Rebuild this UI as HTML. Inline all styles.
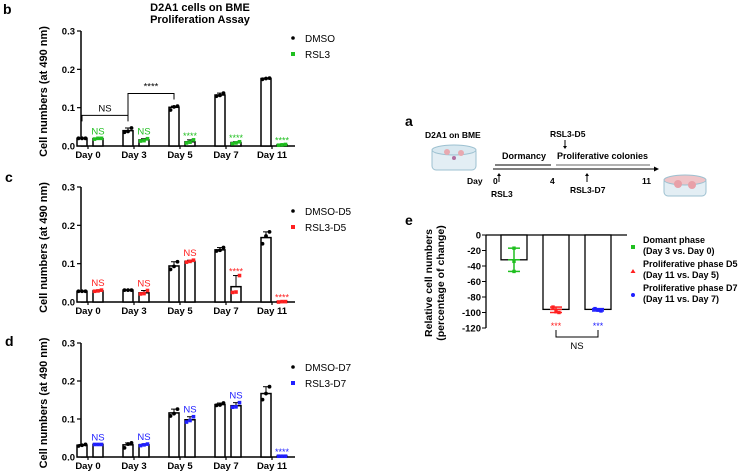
<!DOCTYPE html>
<html><head><meta charset="utf-8"><style>
html,body{margin:0;padding:0;background:#fff;}
svg{display:block;font-family:"Liberation Sans",Arial,sans-serif;}
</style></head><body>
<svg id="fig" width="738" height="474" viewBox="0 0 738 474">
<text x="3" y="14" font-size="14" font-weight="bold">b</text>
<text x="200" y="11" font-size="11" font-weight="bold" text-anchor="middle">D2A1 cells on BME</text>
<text x="200" y="23" font-size="11" font-weight="bold" text-anchor="middle">Proliferation Assay</text>
<text x="5" y="182" font-size="14" font-weight="bold">c</text>
<text x="5" y="346" font-size="14" font-weight="bold">d</text>
<text x="405" y="126" font-size="14" font-weight="bold">a</text>
<text x="405" y="225" font-size="14" font-weight="bold">e</text>

<g id="panelA" font-weight="bold" font-size="8.5">
 <text x="425" y="138">D2A1 on BME</text>
 <g>
  <rect x="432" y="148" width="44" height="22" rx="4" fill="#e3eef4" stroke="#9cc0d0"/>
  <ellipse cx="454" cy="150" rx="22" ry="5" fill="#d8e8f0" stroke="#9cc0d0"/>
  <circle cx="447" cy="152" r="3" fill="#e8a9b0"/><circle cx="461" cy="153" r="3" fill="#e8a9b0"/><circle cx="454" cy="158" r="2" fill="#b06fa0"/>
 </g>
 <g>
  <rect x="664" y="178" width="42" height="18" rx="4" fill="#e3eef4" stroke="#9cc0d0"/>
  <ellipse cx="685" cy="180" rx="21" ry="5" fill="#efc4c8" stroke="#9cc0d0"/>
  <circle cx="678" cy="184" r="4" fill="#e8a0a8"/><circle cx="692" cy="185" r="4" fill="#e8a0a8"/>
 </g>
 <line x1="493" y1="169" x2="654" y2="169" stroke="#000" stroke-width="1"/>
 <polygon points="654,166.5 659,169 654,171.5" fill="#000"/>
 <line x1="495" y1="165" x2="551" y2="165" stroke="#000"/>
 <line x1="556" y1="165" x2="650" y2="165" stroke="#999" stroke-width="1.5"/>
 <text x="502" y="159" font-size="9">Dormancy</text>
 <text x="557" y="159" font-size="9">Proliferative colonies</text>
 <text x="550" y="137">RSL3-D5</text>
 <line x1="565" y1="140" x2="565" y2="148" stroke="#000"/><polygon points="563,146 567,146 565,149" fill="#000"/>
 <text x="467" y="184">Day</text>
 <text x="493" y="184">0</text>
 <line x1="499" y1="174" x2="499" y2="182" stroke="#000"/><polygon points="497,176 501,176 499,173" fill="#000"/>
 <text x="550" y="184">4</text>
 <text x="642" y="184">11</text>
 <line x1="587" y1="174" x2="587" y2="182" stroke="#000"/><polygon points="585,176 589,176 587,173" fill="#000"/>
 <text x="491" y="197">RSL3</text>
 <text x="570" y="193">RSL3-D7</text>
</g>
<g id="charts"></g>
</svg>
<script>
// Panel b
const categories = ["Day 0","Day 3","Day 5","Day 7","Day 11"];
const yTicks = [0.0,0.1,0.2,0.3];
const yTickLabels = ["0.0","0.1","0.2","0.3"];
const bDmso = [0.020,0.040,0.101,0.133,0.176];
const bRsl3 = [0.019,0.016,0.011,0.009,0.003];
const bDmsoPts = [[0.020,0.020,0.020],[0.036,0.038,0.047],[0.094,0.102,0.104],[0.130,0.132,0.138],[0.174,0.176,0.177]];
const bRsl3Pts = [[0.018,0.020,0.020],[0.013,0.014,0.019],[0.008,0.010,0.016],[0.006,0.008,0.011],[0.002,0.003,0.004]];
const bSig = ["NS","NS","****","****","****"];
// Panel c
const cDmso = [0.028,0.031,0.094,0.136,0.168];
const cRsl3 = [0.029,0.024,0.106,0.040,0.001];
const cDmsoPts = [[0.028,0.028,0.028],[0.031,0.031,0.031],[0.085,0.093,0.105],[0.133,0.135,0.142],[0.152,0.172,0.183]];
const cRsl3Pts = [[0.028,0.029,0.031],[0.021,0.022,0.030],[0.104,0.106,0.109],[0.025,0.026,0.069],[0.0,0.001,0.001]];
const cSig = ["NS","NS","NS","****","****"];
// Panel d
const dDmso = [0.031,0.032,0.116,0.138,0.167];
const dRsl3 = [0.033,0.032,0.098,0.135,0.002];
const dDmsoPts = [[0.029,0.031,0.033],[0.024,0.034,0.037],[0.108,0.114,0.126],[0.136,0.137,0.142],[0.151,0.167,0.185]];
const dRsl3Pts = [[0.033,0.033,0.033],[0.030,0.032,0.034],[0.092,0.096,0.106],[0.131,0.132,0.143],[0.002,0.002,0.002]];
const dSig = ["NS","NS","NS","NS","****"];
// Panel e
const eCats = ["Domant phase","Proliferative phase D5","Proliferative phase D7"];
const eMeans = [-32,-96,-96];
const ePts = [[-17,-34,-47],[-93,-99,-100],[-95,-97,-98]];
const eTicks = [0,-20,-40,-60,-80,-100,-120];
const eSig = ["","***","***"];

const NS = "http://www.w3.org/2000/svg";
const root = document.getElementById('charts');
function mk(tag, attrs, parent, text){
  const e = document.createElementNS(NS, tag);
  for (const k in attrs) e.setAttribute(k, attrs[k]);
  if (text !== undefined) e.textContent = text;
  (parent||root).appendChild(e);
  return e;
}

function drawPanel(id, y0, yTop, dm, rs, dmP, rsP, sig, color, legend){
  const g = mk('g', {});
  
  
  const ax = 81, axR = 295;
  const yS = v => y0 - (v/0.3)*(y0-yTop);
  const xG = i => 88 + i*46;
  const yl = mk('line', {x1:ax,y1:yTop,x2:ax,y2:y0,stroke:'#000','stroke-width':1.5}, g);
  
  
  const xl = mk('line', {x1:ax,y1:y0,x2:axR,y2:y0,stroke:'#000','stroke-width':1.5}, g);
  
  
  yTicks.forEach((t,i)=>{
    mk('line',{x1:ax-4,y1:yS(t),x2:ax,y2:yS(t),stroke:'#000','stroke-width':1.2},g);
    const tl = mk('text',{x:ax-6,y:yS(t)+3.5,'font-size':9.5,'font-weight':'bold','text-anchor':'end'},g,yTickLabels[i]);
    
    
  });
  const yt = mk('text',{x:0,y:0,'font-size':11,'font-weight':'bold','text-anchor':'middle',transform:`translate(47,${(y0+yTop)/2+3}) rotate(-90)`},g,'Cell numbers (at 490 nm)');
  
  
  categories.forEach((c,i)=>{
    const gx = xG(i);
    const xt = mk('text',{x:gx,y:y0+12,'font-size':9.5,'font-weight':'bold','text-anchor':'middle'},g,c);
    
    
    mk('line',{x1:gx,y1:y0,x2:gx,y2:y0+3,stroke:'#000','stroke-width':1.2},g);
    [[dm,dmP,gx-6,'#000','dmso'],[rs,rsP,gx+10,color,'treated']].forEach(([vals,pts,cx,col,nm])=>{
      const v = vals[i];
      const b = mk('rect',{x:cx-5,y:yS(v),width:10,height:y0-yS(v),fill:'#fff',stroke:'#000','stroke-width':1.5},g);
      
      
      const p = pts[i];
      const mx = Math.max(...p);
      mk('line',{x1:cx,y1:yS(mx),x2:cx,y2:yS(v),stroke:'#000','stroke-width':1},g);
      mk('line',{x1:cx-3,y1:yS(mx),x2:cx+3,y2:yS(mx),stroke:'#000','stroke-width':1},g);
      p.forEach((pv,k)=>{
        const px = cx-3.5+k*3.5;
        let m;
        if (col==='#000') m = mk('circle',{cx:px,cy:yS(pv),r:1.9,fill:'#000'},g);
        else m = mk('rect',{x:px-1.8,y:yS(pv)-1.8,width:3.6,height:3.6,fill:col},g);
        
        
      });
    });
    const top = Math.max(...rsP[i], rs[i]);
    const st = mk('text',{x:gx+10,y:yS(top)-4+(sig[i]==='****'?3:0),'font-size':sig[i]==='****'?9:9.5,'text-anchor':'middle',fill:color},g,sig[i]);
    
    
  });
  legend.forEach((l,k)=>{
    const ly = yTop + 7 + k*16 + (id==='b'?0:17);
    let m;
    if (k===0) m = mk('circle',{cx:293,cy:ly,r:1.8,fill:'#000'},g);
    else m = mk('rect',{x:291,y:ly-2,width:4,height:4,fill:color},g);
    
    
    const t = mk('text',{x:305,y:ly+4,'font-size':10},g,l);
    
    
  });
  return {g,yS,xG};
}

const pb = drawPanel('b',146,31,bDmso,bRsl3,bDmsoPts,bRsl3Pts,bSig,'#1fbf1f',['DMSO','RSL3']);
(function(){
  const g = pb.g;
  const x0 = pb.xG(0)-6, x1 = pb.xG(1)-6, x2 = pb.xG(2)-6;
  const yb = pb.yS(0.08);
  mk('polyline',{points:`${x0},${yb+6} ${x0},${yb} ${x1},${yb} ${x1},${yb+6}`,fill:'none',stroke:'#000','stroke-width':1},g);
  const t1 = mk('text',{x:(x0+x1)/2,y:yb-4,'font-size':9.5,'text-anchor':'middle'},g,'NS');
  
  
  const yb2 = pb.yS(0.137);
  mk('polyline',{points:`${x1},${yb+2} ${x1},${yb2} ${x2},${yb2} ${x2},${yb2+6}`,fill:'none',stroke:'#000','stroke-width':1},g);
  const t2 = mk('text',{x:(x1+x2)/2,y:yb2-4,'font-size':9.5,'text-anchor':'middle'},g,'****');
  
  
})();
drawPanel('c',302,187,cDmso,cRsl3,cDmsoPts,cRsl3Pts,cSig,'#ff2020',['DMSO-D5','RSL3-D5']);
drawPanel('d',457,343,dDmso,dRsl3,dDmsoPts,dRsl3Pts,dSig,'#2020ff',['DMSO-D7','RSL3-D7']);

(function(){
  const g = mk('g',{});
  
  
  const ax = 486, y0 = 235, yB = 328;
  const yS = v => y0 + (-v/120)*(yB-y0);
  const xC = i => 514 + i*42;
  const cols = ['#1fbf1f','#ff2020','#2020ff'];
  mk('line',{x1:ax,y1:y0,x2:ax,y2:yB,stroke:'#000','stroke-width':1.3},g);
  mk('line',{x1:ax,y1:y0,x2:627,y2:y0,stroke:'#000','stroke-width':1.3},g);
  eTicks.forEach(t=>{
    mk('line',{x1:ax-4,y1:yS(t),x2:ax,y2:yS(t),stroke:'#000'},g);
    const tl = mk('text',{x:ax-5,y:yS(t)+3.5,'font-size':9.5,'font-weight':'bold','text-anchor':'end'},g,String(t));
    
    
  });
  const y1 = mk('text',{'font-size':10.5,'font-weight':'bold','text-anchor':'middle',transform:'translate(432,283) rotate(-90)'},g,'Relative cell numbers');
  
  
  const y2 = mk('text',{'font-size':10.5,'font-weight':'bold','text-anchor':'middle',transform:'translate(444,283) rotate(-90)'},g,'(percentage of change)');
  
  
  eMeans.forEach((m,i)=>{
    const cx = xC(i);
    const b = mk('rect',{x:cx-13,y:y0,width:26,height:yS(m)-y0,fill:'#fff',stroke:'#000','stroke-width':1.3},g);
    
    
    const p = ePts[i], mn = Math.min(...p), mx = Math.max(...p);
    mk('line',{x1:cx,y1:yS(mx),x2:cx,y2:yS(mn),stroke:cols[i],'stroke-width':1.5},g);
    mk('line',{x1:cx-6,y1:yS(mx),x2:cx+6,y2:yS(mx),stroke:cols[i],'stroke-width':1.5},g);
    mk('line',{x1:cx-6,y1:yS(mn),x2:cx+6,y2:yS(mn),stroke:cols[i],'stroke-width':1.5},g);
    mk('line',{x1:cx-6,y1:yS(m),x2:cx+6,y2:yS(m),stroke:cols[i],'stroke-width':1.5},g);
    p.forEach((pv,k)=>{
      const px = cx + (i===0?0:(k-1)*3);
      const d = mk('rect',{x:px-1.7,y:yS(pv)-1.7,width:3.4,height:3.4,fill:cols[i]},g);
      
      
    });
    if (eSig[i]) {
      const s = mk('text',{x:cx,y:yS(-120)+1,'font-size':9,'text-anchor':'middle',fill:cols[i]},g,eSig[i]);
      
      
    }
  });
  mk('polyline',{points:`${xC(1)},${330} ${xC(1)},${337} ${xC(2)},${337} ${xC(2)},${330}`,fill:'none',stroke:'#000'},g);
  const ns = mk('text',{x:(xC(1)+xC(2))/2,y:349,'font-size':9.5,'text-anchor':'middle'},g,'NS');
  
  
  const legL2 = ["(Day 3 vs. Day 0)","(Day 11 vs. Day 5)","(Day 11 vs. Day 7)"];
  eCats.forEach((l,i)=>{
    const ly = 243 + i*24;
    let m;
    if (i===0) m = mk('rect',{x:631,y:ly+2,width:4,height:4,fill:cols[0]},g);
    else if (i===1) m = mk('polygon',{points:`633,${ly+2} 635.5,${ly+6} 630.5,${ly+6}`,fill:cols[1]},g);
    else m = mk('circle',{cx:633,cy:ly+4,r:2,fill:cols[2]},g);
    
    
    const t = mk('text',{x:643,y:ly,'font-size':9,'font-weight':'bold'},g,l);
    
    
    const t2 = mk('text',{x:643,y:ly+11,'font-size':9,'font-weight':'bold'},g,legL2[i]);
    
    
  });
})();
</script>
</body></html>
